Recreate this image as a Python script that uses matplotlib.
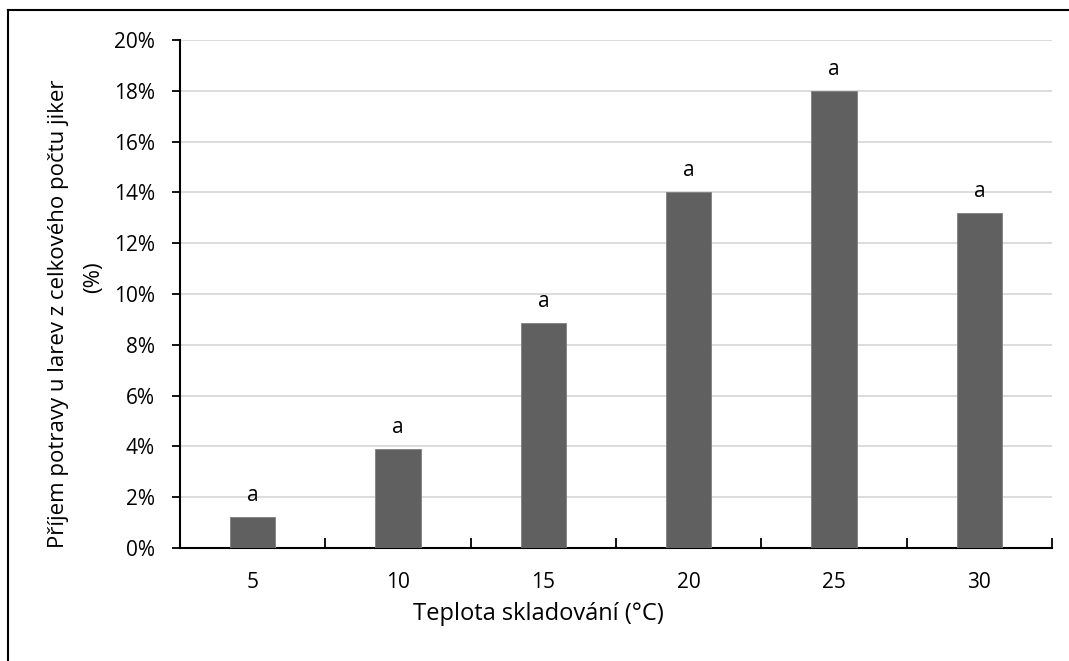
import matplotlib.pyplot as plt
from matplotlib.lines import Line2D
from matplotlib.ticker import PercentFormatter

plt.rcParams['font.family'] = ['Open Sans', 'DejaVu Sans']

# data
teploty = ['5', '10', '15', '20', '25', '30']
prijem = [1.2, 3.9, 8.85, 14.0, 18.0, 13.2]
pismena = ['a', 'a', 'a', 'a', 'a', 'a']

W, H = 1069, 661
fig = plt.figure(figsize=(W / 100, H / 100), dpi=100)
ax = fig.add_axes([0.1684, 0.171, 0.8157, 0.7685])

x = range(len(teploty))
ax.bar(x, prijem, width=0.31, color='#606060', edgecolor='#808080', linewidth=0.6, zorder=3)

for i, (v, p) in enumerate(zip(prijem, pismena)):
    ax.annotate(p, (i, v), xytext=(0, 8), textcoords='offset points',
                ha='center', va='bottom', fontsize=15)

ax.set_xlim(-0.5, len(teploty) - 0.5)
ax.set_ylim(0, 20)
ax.set_yticks(range(0, 21, 2))
ax.yaxis.set_major_formatter(PercentFormatter(decimals=0))
ax.grid(axis='y', color='#d9d9d9', linewidth=1.3, zorder=0)

# kategorie na stred, carky mezi nimi
ax.set_xticks([i + 0.5 for i in range(-1, len(teploty))])
ax.set_xticklabels([])
ax.set_xticks(list(x), minor=True)
ax.set_xticklabels(teploty, minor=True, fontsize=15)
ax.tick_params(axis='x', which='major', direction='in', length=7, width=1.3)
ax.tick_params(axis='x', which='minor', length=0, pad=17)
ax.tick_params(axis='y', direction='out', length=6, width=1.3, labelsize=15, pad=12)

for s in ['top', 'right']:
    ax.spines[s].set_visible(False)
for s in ['left', 'bottom']:
    ax.spines[s].set_linewidth(1.5)

# popisky os (jako v Excelu, trochu mimo stred)
fig.text(538 / W, 1 - 614 / H, 'Teplota skladování (°C)', fontsize=17, ha='center', va='center')
fig.text(59 / W, 1 - 314 / H, 'Příjem potravy u larev z celkového počtu jiker', fontsize=16,
         rotation=90, ha='center', va='center')
fig.text(94 / W, 1 - 277 / H, '(%)', fontsize=16, rotation=90, ha='center', va='center')

# ramecek kolem grafu
fig.add_artist(Line2D([8 / W, 8 / W], [0, 1 - 10 / H], color='black', lw=1.5, transform=fig.transFigure))
fig.add_artist(Line2D([8 / W, 1], [1 - 10 / H, 1 - 10 / H], color='black', lw=1.5, transform=fig.transFigure))

fig.savefig('out.png', dpi=100)
